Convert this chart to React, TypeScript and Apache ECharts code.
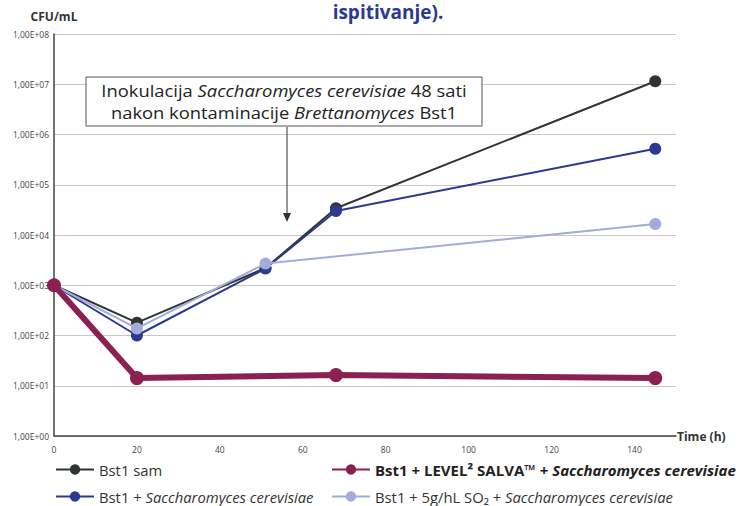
import React, { useEffect, useRef } from "react";
import * as echarts from "echarts";

const hours = [0, 20, 51, 68, 145];
const bstSam = [1000, 180, 2200, 34000, 11500000];
const bstSacch = [1000, 100, 2150, 30000, 520000];
const bstSO2: [number, number][] = [[0, 1000], [20, 138], [51, 2700], [145, 16500]];
const bstLevel: [number, number][] = [[0, 1000], [20, 14.2], [68, 16.3], [145, 14.2]];
const yTicks = ["1,00E+00", "1,00E+01", "1,00E+02", "1,00E+03", "1,00E+04", "1,00E+05", "1,00E+06", "1,00E+07", "1,00E+08"];

const names = {
  sam: "Bst1 sam",
  level: "Bst1 + LEVEL² SALVA™ + Saccharomyces cerevisiae",
  sacch: "Bst1 + Saccharomyces cerevisiae",
  so2: "Bst1 + 5g/hL SO₂ + Saccharomyces cerevisiae",
};

const colors = { sam: "#2f3535", level: "#8a2152", sacch: "#2b3990", so2: "#a3abd9" };
const FONT = "Open Sans";

export default function App() {
  const ref = useRef<HTMLDivElement>(null);
  useEffect(() => {
    const chart = echarts.init(ref.current!, null, { renderer: "svg" });
    const legendText = { fontFamily: FONT, fontSize: 14.8, color: "#333" };
    const legendRich = {
      n: { fontFamily: FONT, fontSize: 14.8, color: "#333" },
      i: { fontFamily: FONT, fontSize: 14.8, color: "#333", fontStyle: "italic" },
      b: { fontFamily: FONT, fontSize: 15, color: "#222", fontWeight: "bold" },
      bi: { fontFamily: FONT, fontSize: 15, color: "#222", fontWeight: "bold", fontStyle: "italic" },
    };
    const fmt = (name: string) => {
      if (name === names.sam) return "{n|Bst1 sam}";
      if (name === names.level) return "{b|Bst1 + LEVEL² SALVA™ + }{bi|Saccharomyces cerevisiae}";
      if (name === names.sacch) return "{n|Bst1 + }{i|Saccharomyces cerevisiae}";
      return "{n|Bst1 + 5g/hL SO₂ + }{i|Saccharomyces cerevisiae}";
    };
    const mkLegend = (name: string, left: number, top: number) => ({
      data: [name],
      left,
      top,
      itemWidth: 38,
      itemHeight: 13,
      itemGap: 4,
      padding: 0,
      formatter: fmt,
      textStyle: { ...legendText, rich: legendRich },
      lineStyle: { width: 2 },
    });
    const labelFmt = (v: number) => yTicks[Math.round(Math.log10(v))] ?? "";
    chart.setOption({
      animation: false,
      textStyle: { fontFamily: FONT },
      grid: { left: 54, top: 34, right: 64, bottom: 70 },
      legend: [
        mkLegend(names.sam, 55, 462),
        mkLegend(names.level, 331, 462),
        mkLegend(names.sacch, 55, 489),
        mkLegend(names.so2, 331, 489),
      ],
      xAxis: {
        type: "value",
        min: 0,
        max: 150,
        interval: 20,
        name: "Time (h)",
        nameLocation: "end",
        nameGap: 1,
        nameTextStyle: { fontFamily: FONT, fontWeight: "bold", fontSize: 12, color: "#333" },
        axisLine: { lineStyle: { color: "#444", width: 1.5 } },
        axisTick: { show: false },
        splitLine: { show: false },
        axisLabel: { showMaxLabel: false, fontSize: 8.5, color: "#444", margin: 9 },
      },
      yAxis: {
        type: "log",
        logBase: 10,
        min: 1,
        max: 100000000,
        name: "CFU/mL",
        nameLocation: "end",
        nameGap: 12,
        nameTextStyle: { fontFamily: FONT, fontWeight: "bold", fontSize: 12, color: "#333", align: "center" },
        axisLine: { show: true, lineStyle: { color: "#444", width: 1.5 } },
        axisTick: { show: false },
        splitLine: { show: true, lineStyle: { color: "#c8c8c8", width: 1 } },
        axisLabel: { formatter: labelFmt, fontSize: 8.5, color: "#444", margin: 5 },
      },
      series: [
        {
          name: names.sam,
          type: "line",
          data: hours.map((h, i) => [h, bstSam[i]]),
          symbol: "circle",
          symbolSize: 12,
          color: colors.sam,
          lineStyle: { width: 2, color: colors.sam },
          z: 2,
        },
        {
          name: names.sacch,
          type: "line",
          data: hours.map((h, i) => [h, bstSacch[i]]),
          symbol: "circle",
          symbolSize: 12,
          color: colors.sacch,
          lineStyle: { width: 2, color: colors.sacch },
          z: 3,
        },
        {
          name: names.so2,
          type: "line",
          data: bstSO2,
          symbol: "circle",
          symbolSize: 12,
          color: colors.so2,
          lineStyle: { width: 2, color: colors.so2 },
          z: 4,
        },
        {
          name: names.level,
          type: "line",
          data: bstLevel,
          symbol: "circle",
          symbolSize: 14,
          color: colors.level,
          lineStyle: { width: 6, color: colors.level },
          z: 5,
        },
      ],
      graphic: [
        {
          type: "text",
          x: 388,
          y: 12,
          style: {
            text: "ispitivanje).",
            fontFamily: FONT,
            fontWeight: "bold",
            fontSize: 19,
            fill: "#2b3990",
            align: "center",
            verticalAlign: "middle",
          },
        },
        {
          type: "rect",
          shape: { x: 86, y: 77, width: 396, height: 49 },
          style: { fill: "#fff", stroke: "#555", lineWidth: 1 },
          z: 100,
        },
        {
          type: "text",
          x: 284,
          y: 79,
          z: 101,
          scaleX: 1.08,
          style: {
            text:
              "{n|Inokulacija }{i|Saccharomyces cerevisiae}{n| 48 sati}\n{n|nakon kontaminacije }{i|Brettanomyces}{n| Bst1}",
            align: "center",
            rich: {
              n: { fontFamily: FONT, fontSize: 17, fill: "#222", lineHeight: 22 },
              i: { fontFamily: FONT, fontSize: 17, fill: "#222", fontStyle: "italic", lineHeight: 22 },
            },
          },
        },
        {
          type: "line",
          shape: { x1: 287, y1: 127, x2: 287, y2: 216 },
          style: { stroke: "#333", lineWidth: 1 },
          z: 100,
        },
        {
          type: "polygon",
          shape: { points: [[283, 213], [291, 213], [287, 222]] },
          style: { fill: "#333" },
          z: 100,
        },
      ],
    });
    return () => chart.dispose();
  }, []);
  return <div ref={ref} style={{ width: 740, height: 506, position: "absolute", left: 0, top: 0 }} />;
}
